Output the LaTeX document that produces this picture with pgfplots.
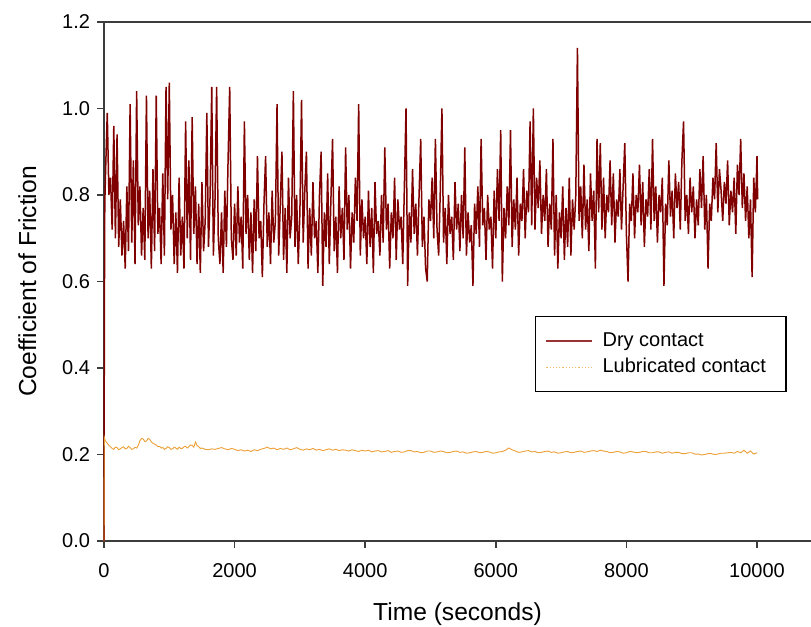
\documentclass[border=0pt]{standalone}
\usepackage{fontspec}
\setmainfont{Liberation Sans}
\usepackage{pgfplots}
\pgfplotsset{compat=1.18}

\definecolor{dryred}{RGB}{128,0,0}
\definecolor{luborange}{RGB}{236,160,55}
\definecolor{spine}{RGB}{60,60,60}

\pgfplotstableread{
t mu
0 0.00
5 0.50
12 0.78
25 0.86
50 0.99
75 0.80
100 0.84
125 0.72
150 0.96
175 0.70
200 0.94
225 0.68
250 0.79
275 0.66
300 0.74
325 0.63
350 0.82
375 0.67
400 1.01
425 0.69
450 0.88
475 0.64
500 1.04
525 0.73
550 0.82
575 0.66
600 0.77
625 0.65
650 1.03
675 0.70
700 0.81
725 0.63
750 0.86
775 0.67
800 1.03
825 0.71
850 0.77
875 0.64
900 0.85
925 0.66
950 1.05
975 0.79
1000 1.06
1025 0.72
1050 0.80
1075 0.64
1100 0.76
1125 0.62
1150 0.84
1175 0.66
1200 0.75
1225 0.63
1250 0.97
1275 0.70
1300 0.88
1325 0.65
1350 0.98
1375 0.71
1400 0.82
1425 0.64
1450 0.78
1475 0.62
1500 0.83
1525 0.67
1550 0.74
1575 0.99
1600 0.68
1625 0.80
1650 1.05
1675 0.66
1700 0.79
1725 1.05
1750 0.70
1775 0.64
1800 0.76
1825 0.62
1850 0.81
1875 0.68
1900 0.88
1925 1.05
1950 0.70
1975 0.65
2000 0.78
2025 0.66
2050 0.82
2075 0.69
2100 0.75
2125 0.63
2150 0.97
2175 0.71
2200 0.80
2225 0.65
2250 0.76
2275 0.62
2300 0.79
2325 0.67
2350 0.89
2375 0.70
2400 0.74
2425 0.61
2450 0.78
2475 0.89
2500 0.68
2525 0.76
2550 0.64
2575 0.81
2600 0.69
2625 0.74
2650 1.01
2675 0.66
2700 0.78
2725 0.90
2750 0.65
2775 0.77
2800 0.62
2825 0.84
2850 0.70
2875 0.75
2900 1.04
2925 0.68
2950 0.80
2975 0.64
3000 0.76
3025 1.02
3050 0.69
3075 0.81
3100 0.90
3125 0.63
3150 0.77
3175 0.66
3200 0.83
3225 0.70
3250 0.74
3275 0.62
3300 0.80
3325 0.90
3350 0.59
3375 0.76
3400 0.68
3425 0.85
3450 0.64
3475 0.79
3500 0.93
3525 0.67
3550 0.75
3575 0.62
3600 0.82
3625 0.70
3650 0.77
3675 0.65
3700 0.91
3725 0.72
3750 0.80
3775 0.63
3800 0.76
3825 0.69
3850 0.84
3875 0.74
3900 1.01
3925 0.66
3950 0.79
3975 0.70
4000 0.75
4025 0.64
4050 0.81
4075 0.68
4100 0.77
4125 0.62
4150 0.83
4175 0.71
4200 0.74
4225 0.66
4250 0.80
4275 0.69
4300 0.91
4325 0.72
4350 0.78
4375 0.63
4400 0.76
4425 0.70
4450 0.84
4475 0.65
4500 0.79
4525 0.72
4550 0.75
4575 0.64
4600 0.82
4625 1.00
4650 0.59
4675 0.76
4700 0.69
4725 0.86
4750 0.71
4775 0.78
4800 0.66
4825 0.80
4850 0.93
4875 0.68
4900 0.75
4925 0.63
4950 0.60
4975 0.79
5000 0.74
5025 0.84
5050 0.70
5075 0.93
5100 0.72
5125 0.66
5150 0.81
5175 1.00
5200 0.69
5225 0.77
5250 0.64
5275 0.80
5300 0.71
5325 0.75
5350 0.65
5375 0.83
5400 0.72
5425 0.78
5450 0.67
5475 0.80
5500 0.70
5525 0.91
5550 0.66
5575 0.76
5600 0.69
5625 0.73
5650 0.59
5675 0.78
5700 0.71
5725 0.82
5750 0.68
5775 0.93
5800 0.73
5825 0.77
5850 0.65
5875 0.80
5900 0.72
5925 0.75
5950 0.63
5975 0.81
6000 0.70
6025 0.86
6050 0.74
6075 0.95
6100 0.60
6125 0.77
6150 0.70
6175 0.82
6200 0.73
6225 0.95
6250 0.68
6275 0.79
6300 0.72
6325 0.84
6350 0.66
6375 0.78
6400 0.74
6425 0.86
6450 0.70
6475 0.81
6500 0.76
6525 0.97
6550 0.73
6575 1.00
6600 0.72
6625 0.84
6650 0.77
6675 0.88
6700 0.71
6725 0.80
6750 0.74
6775 0.86
6800 0.68
6825 0.78
6850 0.72
6875 0.93
6900 0.66
6925 0.80
6950 0.63
6975 0.76
7000 0.70
7025 0.82
7050 0.65
7075 0.77
7100 0.68
7125 0.84
7150 0.66
7175 0.79
7200 0.72
7225 0.80
7250 1.14
7275 0.74
7300 0.82
7325 0.70
7350 0.87
7375 0.72
7400 0.79
7425 0.67
7450 0.85
7475 0.74
7500 0.81
7525 0.63
7550 0.93
7575 0.76
7600 0.92
7625 0.72
7650 0.84
7675 0.70
7700 0.80
7725 0.76
7750 0.88
7775 0.73
7800 0.85
7825 0.69
7850 0.79
7875 0.75
7900 0.86
7925 0.72
7950 0.82
7975 0.92
8000 0.71
8025 0.60
8050 0.78
8075 0.74
8100 0.85
8125 0.70
8150 0.80
8175 0.76
8200 0.87
8225 0.73
8250 0.83
8275 0.68
8300 0.79
8325 0.75
8350 0.86
8375 0.72
8400 0.93
8425 0.74
8450 0.82
8475 0.69
8500 0.80
8525 0.76
8550 0.84
8575 0.59
8600 0.78
8625 0.73
8650 0.88
8675 0.75
8700 0.81
8725 0.70
8750 0.85
8775 0.77
8800 0.83
8825 0.72
8850 0.88
8875 0.97
8900 0.74
8925 0.80
8950 0.71
8975 0.84
9000 0.76
9025 0.82
9050 0.70
9075 0.79
9100 0.73
9125 0.86
9150 0.77
9175 0.89
9200 0.72
9225 0.80
9250 0.63
9275 0.78
9300 0.74
9325 0.84
9350 0.79
9375 0.92
9400 0.76
9425 0.86
9450 0.81
9475 0.74
9500 0.83
9525 0.78
9550 0.88
9575 0.73
9600 0.81
9625 0.76
9650 0.84
9675 0.71
9700 0.87
9725 0.80
9750 0.93
9775 0.77
9800 0.85
9825 0.74
9850 0.82
9875 0.70
9900 0.79
9925 0.61
9950 0.84
9975 0.76
10000 0.89
10010 0.79
}\drytable

\pgfplotstableread{
t mu
0 0.000
5 0.240
20 0.232
50 0.226
75 0.221
100 0.218
125 0.214
150 0.212
175 0.217
200 0.216
225 0.211
250 0.213
275 0.216
300 0.218
325 0.213
350 0.214
375 0.219
400 0.216
425 0.212
450 0.213
475 0.217
500 0.215
525 0.221
550 0.232
575 0.237
600 0.236
625 0.230
650 0.231
675 0.237
700 0.235
725 0.229
750 0.226
775 0.224
800 0.222
825 0.218
850 0.219
875 0.215
900 0.216
925 0.212
950 0.214
975 0.218
1000 0.216
1025 0.212
1050 0.213
1075 0.217
1100 0.215
1125 0.212
1150 0.217
1175 0.214
1200 0.214
1225 0.218
1250 0.219
1275 0.215
1300 0.218
1325 0.222
1350 0.221
1375 0.217
1400 0.229
1425 0.221
1450 0.218
1475 0.214
1500 0.215
1550 0.212
1600 0.211
1650 0.213
1700 0.212
1750 0.214
1800 0.216
1850 0.213
1900 0.211
1950 0.214
2000 0.212
2050 0.209
2100 0.211
2150 0.208
2200 0.210
2250 0.207
2300 0.211
2350 0.209
2400 0.212
2450 0.214
2500 0.217
2550 0.213
2600 0.215
2650 0.211
2700 0.214
2750 0.212
2800 0.215
2850 0.211
2900 0.213
2950 0.216
3000 0.212
3050 0.210
3100 0.213
3150 0.211
3200 0.214
3250 0.210
3300 0.212
3350 0.209
3400 0.211
3450 0.213
3500 0.210
3550 0.212
3600 0.209
3650 0.211
3700 0.210
3750 0.208
3800 0.211
3850 0.209
3900 0.207
3950 0.210
4000 0.208
4050 0.210
4100 0.206
4150 0.208
4200 0.209
4250 0.206
4300 0.207
4350 0.209
4400 0.205
4450 0.207
4500 0.208
4550 0.205
4600 0.206
4650 0.209
4700 0.209
4750 0.206
4800 0.207
4850 0.204
4900 0.205
4950 0.208
5000 0.208
5050 0.205
5100 0.206
5150 0.208
5200 0.207
5250 0.204
5300 0.205
5350 0.207
5400 0.208
5450 0.205
5500 0.206
5550 0.203
5600 0.204
5650 0.206
5700 0.207
5750 0.204
5800 0.205
5850 0.207
5900 0.206
5950 0.203
6000 0.204
6050 0.206
6100 0.207
6150 0.210
6200 0.215
6250 0.211
6300 0.208
6350 0.205
6400 0.206
6450 0.208
6500 0.209
6550 0.206
6600 0.207
6650 0.204
6700 0.205
6750 0.207
6800 0.208
6850 0.205
6900 0.206
6950 0.203
7000 0.204
7050 0.206
7100 0.207
7150 0.204
7200 0.205
7250 0.207
7300 0.208
7350 0.205
7400 0.206
7450 0.208
7500 0.209
7550 0.207
7600 0.210
7650 0.208
7700 0.207
7750 0.204
7800 0.205
7850 0.207
7900 0.206
7950 0.203
8000 0.204
8050 0.207
8100 0.206
8150 0.204
8200 0.205
8250 0.207
8300 0.207
8350 0.204
8400 0.204
8450 0.206
8500 0.206
8550 0.203
8600 0.205
8650 0.206
8700 0.203
8750 0.205
8800 0.205
8850 0.202
8900 0.202
8950 0.204
9000 0.204
9050 0.201
9100 0.201
9150 0.199
9200 0.200
9250 0.202
9300 0.202
9350 0.200
9400 0.201
9450 0.203
9500 0.203
9550 0.204
9600 0.205
9650 0.203
9700 0.207
9750 0.204
9800 0.210
9850 0.203
9900 0.208
9950 0.201
10000 0.204
}\lubtable

\begin{document}
\begin{tikzpicture}
\begin{axis}[
  scale only axis,
  width=353.5pt, height=259.5pt,
  xmin=0, xmax=10827,
  ymin=0, ymax=1.2,
  axis lines=left,
  axis line style={-, spine, line width=0.9pt},
  tick align=outside,
  major tick length=3.5pt,
  tick style={spine, line width=0.8pt},
  xtick={0,2000,4000,6000,8000,10000},
  ytick={0,0.2,0.4,0.6,0.8,1.0,1.2},
  scaled x ticks=false,
  xticklabel style={/pgf/number format/1000 sep={}, yshift=-4pt},
  yticklabel style={/pgf/number format/fixed, /pgf/number format/fixed zerofill, /pgf/number format/precision=1},
  /pgf/number format/assume math mode=true,
  ticklabel style={font=\fontsize{10}{12}\selectfont},
  xlabel={Time (seconds)},
  ylabel={Coefficient of Friction},
  label style={font=\fontsize{12.3}{14}\selectfont},
  xlabel style={yshift=-6pt},
  ylabel style={yshift=6pt},
  legend style={at={(rel axis cs:0.61,0.4335)}, anchor=north west, draw=black, line width=0.6pt,
    font=\fontsize{10}{12}\selectfont, inner xsep=5pt, inner ysep=7pt, row sep=2.5pt,
    nodes={inner xsep=5pt, inner ysep=1pt}},
  legend cell align=left,
  clip=false,
]
\addplot[dryred, line width=0.75pt, legend image code/.code={\draw[dryred!80, line width=0.6pt] (0cm,0cm) -- (0.8cm,0cm);}] table[x=t, y=mu] {\drytable};
\addlegendentry{Dry contact}
\addplot[luborange, line width=0.45pt, legend image code/.code={\draw[luborange!70, densely dotted, line width=0.6pt] (0cm,0cm) -- (0.8cm,0cm);}] table[x=t, y=mu] {\lubtable};
\addlegendentry{Lubricated contact}
\draw[spine, line width=0.9pt] (rel axis cs:0,1) -- (rel axis cs:1,1);
\coordinate (bl) at (rel axis cs:0,0);
\coordinate (tr) at (rel axis cs:1,1);
\end{axis}
\pgfresetboundingbox
\path ([xshift=-52pt,yshift=-42.5pt]bl) rectangle ([yshift=11pt]tr);
\end{tikzpicture}
\end{document}
